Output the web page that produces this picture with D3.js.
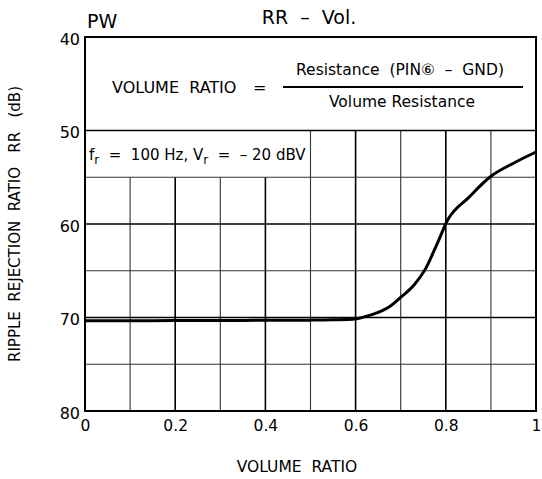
<!DOCTYPE html>
<html><head><meta charset="utf-8">
<script src="https://cdn.jsdelivr.net/npm/d3@7"></script>
<style>body{margin:0;background:#fff}svg{display:block}text{font-family:"DejaVu Sans",sans-serif;fill:#000}</style>
</head><body>
<script>
const xTicks = [0, 0.2, 0.4, 0.6, 0.8, 1];
const xTickLabels = ["0", "0.2", "0.4", "0.6", "0.8", "1"];
const yTicks = [40, 50, 60, 70, 80];
const volumeRatio = [0, 0.1, 0.2, 0.3, 0.4, 0.5, 0.55, 0.6, 0.625, 0.65, 0.675, 0.7, 0.73, 0.755, 0.78, 0.805, 0.85, 0.9, 0.95, 1.0];
const rrDb = [70.35, 70.34, 70.33, 70.32, 70.3, 70.28, 70.24, 70.15, 69.85, 69.45, 68.85, 67.85, 66.5, 64.8, 62.2, 59.5, 57.2, 54.9, 53.5, 52.3];

const W = 542, H = 479;
const svg = d3.select("body").append("svg").attr("width", W).attr("height", H);
const x = d3.scaleLinear().domain([0, 1]).range([85, 536]);
const y = d3.scaleLinear().domain([40, 80]).range([37, 411]);

const g = svg.append("g");
d3.range(1, 10).forEach(i => {
  const v = i / 10;
  const top = v >= 0.5 ? 50 : 55;
  g.append("line").attr("x1", x(v)).attr("x2", x(v)).attr("y1", y(top)).attr("y2", y(80))
    .attr("stroke", i % 2 === 0 ? "#000" : "#333").attr("stroke-width", i % 2 === 0 ? 1.6 : 1.1);
});
[50, 55, 60, 65, 70, 75].forEach(v => {
  g.append("line").attr("x1", x(0)).attr("x2", x(1)).attr("y1", y(v)).attr("y2", y(v))
    .attr("stroke", v % 10 === 0 ? "#000" : "#333").attr("stroke-width", v % 10 === 0 ? 1.6 : 1.1);
});
g.append("rect").attr("x", x(0)).attr("y", y(40)).attr("width", x(1) - x(0)).attr("height", y(80) - y(40))
  .attr("fill", "none").attr("stroke", "#000").attr("stroke-width", 2);

const line = d3.line().x((d, i) => x(volumeRatio[i])).y(d => y(d)).curve(d3.curveMonotoneX);
svg.append("path").datum(rrDb).attr("d", line).attr("fill", "none").attr("stroke", "#000")
  .attr("stroke-width", 3).attr("stroke-linejoin", "round");

const yAxis = d3.axisLeft(y).tickValues(yTicks).tickSize(0).tickPadding(5);
const ya = svg.append("g").attr("transform", `translate(${x(0)},0)`).call(yAxis);
ya.select(".domain").remove();
ya.selectAll("text").style("font-size", "16px").attr("font-family", null).attr("dy", "0.45em");

const xAxis = d3.axisBottom(x).tickValues(xTicks).tickFormat((d, i) => xTickLabels[i]).tickSize(0).tickPadding(9);
const xa = svg.append("g").attr("transform", `translate(0,${y(80)})`).call(xAxis);
xa.select(".domain").remove();
xa.selectAll("text").style("font-size", "15.5px").attr("font-family", null);

svg.append("text").attr("x", 87).attr("y", 28).style("font-size", "19px").text("PW");
svg.append("text").attr("x", 309).attr("y", 24).attr("text-anchor", "middle").style("font-size", "19px").attr("xml:space", "preserve").text("RR  –  Vol.");
svg.append("text").attr("x", 297).attr("y", 472).attr("text-anchor", "middle").style("font-size", "15.5px").attr("xml:space", "preserve").text("VOLUME  RATIO");
svg.append("text").attr("transform", "translate(20,224) rotate(-90)").attr("text-anchor", "middle").style("font-size", "15px")
  .attr("xml:space", "preserve").text("RIPPLE  REJECTION  RATIO   RR   (dB)");

svg.append("text").attr("x", 112).attr("y", 93).style("font-size", "16px").attr("xml:space", "preserve").text("VOLUME  RATIO");
svg.append("text").attr("x", 253).attr("y", 93).style("font-size", "16px").text("=");
svg.append("line").attr("x1", 283).attr("x2", 523).attr("y1", 87).attr("y2", 87).attr("stroke", "#000").attr("stroke-width", 2);
svg.append("text").attr("x", 400).attr("y", 75).attr("text-anchor", "middle").style("font-size", "15.5px").attr("xml:space", "preserve").text("Resistance  (PIN⑥  –  GND)");
svg.append("text").attr("x", 402).attr("y", 107).attr("text-anchor", "middle").style("font-size", "15.5px").text("Volume Resistance");

const c = svg.append("text").attr("x", 89).attr("y", 160).style("font-size", "15px").attr("xml:space", "preserve");
c.append("tspan").text("f");
c.append("tspan").attr("dy", 4).style("font-size", "12px").text("r");
c.append("tspan").attr("dy", -4).text("  =  100 Hz, V");
c.append("tspan").attr("dy", 4).style("font-size", "12px").text("r");
c.append("tspan").attr("dy", -4).text("  =  – 20 dBV");
</script>
</body></html>
